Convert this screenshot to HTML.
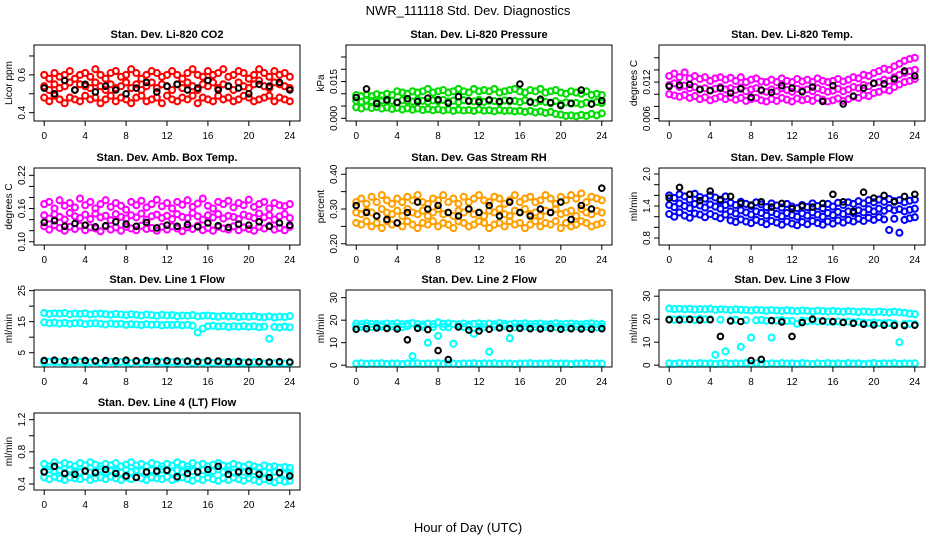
<!DOCTYPE html>
<html><head><meta charset="utf-8"><style>
html,body{margin:0;padding:0;background:#fff}
svg{display:block}
text{font-family:"Liberation Sans",Arial,sans-serif;fill:#000}
.t{font-weight:bold;font-size:11px}
.tk{font-size:10px}
</style></head><body>
<svg id="chart" width="936" height="540" viewBox="0 0 936 540">
<text x="468" y="15" text-anchor="middle" font-size="13">NWR_111118  Std. Dev. Diagnostics</text>
<text x="468" y="532" text-anchor="middle" font-size="13">Hour of Day (UTC)</text>
</svg>
<script>
const hours=[0,0.5,1,1.5,2,2.5,3,3.5,4,4.5,5,5.5,6,6.5,7,7.5,8,8.5,9,9.5,10,10.5,11,11.5,12,12.5,13,13.5,14,14.5,15,15.5,16,16.5,17,17.5,18,18.5,19,19.5,20,20.5,21,21.5,22,22.5,23,23.5,24];
const blackHours=[0,1,2,3,4,5,6,7,8,9,10,11,12,13,14,15,16,17,18,19,20,21,22,23,24];
const xTicks=[0,4,8,12,16,20,24];

const co2Hi=[0.60,0.58,0.61,0.59,0.60,0.62,0.58,0.60,0.61,0.59,0.63,0.60,0.58,0.61,0.62,0.59,0.60,0.63,0.61,0.58,0.60,0.62,0.61,0.59,0.60,0.62,0.60,0.58,0.61,0.63,0.60,0.59,0.62,0.60,0.61,0.63,0.59,0.60,0.62,0.61,0.58,0.60,0.63,0.61,0.59,0.62,0.60,0.61,0.59];
const co2Mid=[0.54,0.52,0.55,0.53,0.54,0.56,0.52,0.55,0.54,0.53,0.56,0.54,0.52,0.55,0.53,0.54,0.56,0.53,0.55,0.52,0.54,0.56,0.53,0.55,0.54,0.52,0.55,0.53,0.56,0.54,0.52,0.55,0.54,0.56,0.53,0.55,0.54,0.52,0.56,0.54,0.53,0.55,0.57,0.54,0.53,0.56,0.55,0.54,0.53];
const co2Lo=[0.48,0.46,0.49,0.47,0.45,0.48,0.47,0.46,0.49,0.47,0.48,0.45,0.47,0.49,0.46,0.48,0.47,0.45,0.48,0.49,0.46,0.47,0.48,0.45,0.49,0.47,0.46,0.48,0.47,0.49,0.45,0.48,0.47,0.46,0.49,0.47,0.48,0.46,0.47,0.49,0.48,0.46,0.47,0.48,0.49,0.46,0.48,0.47,0.46];
const co2Black=[0.53,0.50,0.57,0.52,0.55,0.51,0.54,0.52,0.50,0.53,0.56,0.51,0.54,0.55,0.52,0.53,0.57,0.52,0.54,0.53,0.50,0.55,0.54,0.56,0.52];

const presHi=[0.0095,0.009,0.0095,0.009,0.0098,0.0092,0.010,0.0095,0.011,0.0105,0.010,0.011,0.0105,0.011,0.012,0.0105,0.011,0.0115,0.0105,0.011,0.012,0.011,0.0105,0.012,0.011,0.0115,0.011,0.012,0.0105,0.011,0.0115,0.012,0.011,0.0105,0.0115,0.011,0.012,0.0105,0.011,0.0115,0.0105,0.010,0.011,0.0105,0.010,0.011,0.0095,0.010,0.0095];
const presMid=[0.0072,0.0068,0.0075,0.007,0.0066,0.0073,0.0069,0.0071,0.0065,0.0074,0.007,0.0068,0.0076,0.0071,0.0067,0.0073,0.007,0.0075,0.0068,0.0072,0.0066,0.0074,0.007,0.0069,0.0075,0.0067,0.0072,0.007,0.0065,0.0073,0.0069,0.0071,0.0066,0.0074,0.0068,0.0063,0.0071,0.0067,0.0062,0.007,0.0058,0.0065,0.006,0.0063,0.0057,0.0064,0.006,0.0066,0.0062];
const presLo=[0.0045,0.004,0.0048,0.0042,0.0046,0.004,0.0044,0.0038,0.0043,0.0036,0.0041,0.0035,0.004,0.0034,0.0038,0.0033,0.0037,0.0032,0.0036,0.003,0.0035,0.0032,0.0034,0.003,0.0036,0.0031,0.0033,0.0029,0.0034,0.003,0.0032,0.0028,0.0031,0.0026,0.003,0.0024,0.0028,0.0022,0.0026,0.0018,0.0015,0.001,0.0012,0.0008,0.0014,0.001,0.0018,0.0012,0.002];
const presBlack=[0.0085,0.012,0.006,0.0075,0.0065,0.008,0.0068,0.0082,0.0076,0.0062,0.0088,0.0071,0.0067,0.0075,0.0069,0.0072,0.014,0.0066,0.0078,0.0064,0.0052,0.0061,0.0115,0.0058,0.0072];

const tempHi=[0.0130,0.0134,0.0128,0.0136,0.0126,0.0130,0.0125,0.0128,0.0122,0.0126,0.0128,0.0124,0.0127,0.0122,0.0128,0.0120,0.0124,0.0126,0.0121,0.0120,0.0124,0.0120,0.0126,0.0122,0.0120,0.0125,0.0121,0.0124,0.0120,0.0126,0.0122,0.0120,0.0122,0.0125,0.0121,0.0124,0.0128,0.0126,0.0132,0.0130,0.0135,0.0138,0.0142,0.0140,0.0146,0.0150,0.0155,0.0158,0.0160];
const tempMid=[0.0115,0.0118,0.0112,0.0114,0.0110,0.0112,0.0108,0.0110,0.0106,0.0109,0.0112,0.0108,0.0110,0.0107,0.0111,0.0105,0.0108,0.0110,0.0106,0.0104,0.0108,0.0105,0.0110,0.0107,0.0104,0.0109,0.0106,0.0108,0.0105,0.0110,0.0107,0.0104,0.0106,0.0109,0.0105,0.0108,0.0112,0.0110,0.0115,0.0113,0.0118,0.0120,0.0124,0.0122,0.0128,0.0132,0.0135,0.0138,0.0140];
const tempLo=[0.0100,0.0098,0.0096,0.0099,0.0094,0.0097,0.0092,0.0095,0.0090,0.0093,0.0096,0.0092,0.0095,0.0091,0.0094,0.0089,0.0092,0.0094,0.0090,0.0088,0.0092,0.0089,0.0094,0.0091,0.0088,0.0093,0.0090,0.0092,0.0089,0.0094,0.0091,0.0088,0.0090,0.0093,0.0089,0.0092,0.0096,0.0094,0.0099,0.0097,0.0102,0.0104,0.0108,0.0106,0.0112,0.0116,0.0120,0.0122,0.0125];
const tempBlack=[0.0113,0.0115,0.0116,0.0108,0.0106,0.0110,0.0102,0.0109,0.0095,0.0107,0.0103,0.0114,0.0110,0.0104,0.0112,0.0088,0.0114,0.0084,0.0097,0.0110,0.0118,0.0117,0.0125,0.0138,0.0130];

const boxHi=[0.168,0.172,0.160,0.175,0.165,0.170,0.162,0.178,0.166,0.172,0.160,0.168,0.175,0.163,0.170,0.165,0.158,0.172,0.166,0.174,0.162,0.168,0.176,0.164,0.170,0.160,0.172,0.167,0.175,0.163,0.169,0.178,0.165,0.160,0.172,0.168,0.174,0.162,0.170,0.166,0.176,0.163,0.168,0.172,0.160,0.170,0.166,0.164,0.168];
const boxMid=[0.148,0.142,0.150,0.145,0.140,0.152,0.146,0.143,0.149,0.141,0.151,0.144,0.147,0.139,0.150,0.145,0.142,0.148,0.144,0.151,0.140,0.146,0.149,0.143,0.147,0.141,0.150,0.145,0.143,0.152,0.146,0.140,0.148,0.144,0.150,0.142,0.147,0.145,0.141,0.149,0.146,0.143,0.151,0.144,0.148,0.140,0.146,0.150,0.143];
const boxLo=[0.128,0.122,0.130,0.125,0.120,0.127,0.123,0.129,0.121,0.126,0.124,0.119,0.128,0.122,0.126,0.120,0.127,0.124,0.121,0.129,0.123,0.125,0.120,0.127,0.122,0.128,0.124,0.119,0.126,0.123,0.129,0.121,0.125,0.120,0.127,0.124,0.122,0.128,0.121,0.126,0.123,0.120,0.127,0.124,0.129,0.122,0.125,0.121,0.127];
const boxBlack=[0.135,0.138,0.128,0.133,0.130,0.127,0.129,0.136,0.132,0.128,0.135,0.125,0.130,0.128,0.131,0.127,0.134,0.129,0.126,0.132,0.130,0.136,0.128,0.134,0.130];

const rhHi=[0.32,0.33,0.315,0.335,0.32,0.34,0.325,0.315,0.33,0.32,0.335,0.325,0.34,0.32,0.315,0.33,0.325,0.34,0.32,0.33,0.315,0.335,0.32,0.33,0.34,0.325,0.32,0.335,0.33,0.315,0.325,0.34,0.32,0.33,0.335,0.32,0.325,0.34,0.33,0.315,0.335,0.325,0.34,0.33,0.345,0.32,0.335,0.33,0.325];
const rhMid=[0.29,0.285,0.295,0.29,0.28,0.30,0.29,0.285,0.295,0.28,0.30,0.29,0.285,0.295,0.28,0.29,0.30,0.285,0.29,0.28,0.295,0.29,0.30,0.285,0.29,0.28,0.295,0.29,0.30,0.285,0.28,0.295,0.29,0.30,0.285,0.29,0.28,0.295,0.29,0.30,0.285,0.29,0.295,0.28,0.30,0.29,0.285,0.295,0.29];
const rhLo=[0.26,0.255,0.265,0.25,0.26,0.245,0.265,0.255,0.26,0.25,0.265,0.255,0.245,0.26,0.255,0.265,0.25,0.26,0.255,0.245,0.265,0.26,0.25,0.255,0.265,0.26,0.245,0.255,0.26,0.25,0.265,0.255,0.26,0.245,0.255,0.265,0.25,0.26,0.255,0.265,0.245,0.26,0.25,0.255,0.265,0.26,0.25,0.255,0.26];
const rhBlack=[0.31,0.29,0.28,0.27,0.26,0.29,0.32,0.30,0.31,0.29,0.28,0.30,0.29,0.31,0.28,0.32,0.29,0.28,0.30,0.29,0.32,0.27,0.31,0.30,0.36];

const flowHi=[1.60,1.55,1.62,1.58,1.52,1.63,1.57,1.54,1.60,1.56,1.50,1.58,1.46,1.42,1.48,1.44,1.40,1.47,1.43,1.38,1.45,1.41,1.37,1.44,1.39,1.36,1.42,1.38,1.45,1.40,1.36,1.44,1.39,1.46,1.42,1.47,1.44,1.49,1.45,1.51,1.47,1.52,1.48,1.53,1.49,1.51,1.47,1.50,1.52];
const flowMid=[1.42,1.38,1.45,1.40,1.36,1.44,1.41,1.37,1.43,1.39,1.35,1.42,1.30,1.26,1.32,1.28,1.24,1.30,1.27,1.22,1.29,1.25,1.21,1.27,1.23,1.20,1.26,1.22,1.28,1.24,1.20,1.27,1.23,1.29,1.25,1.30,1.27,1.32,1.28,1.34,1.30,1.35,1.31,1.36,1.32,1.34,1.30,1.33,1.35];
const flowLo=[1.25,1.20,1.28,1.22,1.18,1.26,1.24,1.19,1.25,1.21,1.17,1.24,1.13,1.10,1.15,1.11,1.08,1.14,1.10,1.06,1.12,1.09,1.05,1.11,1.07,1.04,1.10,1.06,1.12,1.08,1.05,1.11,1.07,1.13,1.09,1.14,1.11,1.16,1.12,1.18,1.14,1.19,1.15,0.95,1.16,0.90,1.14,1.17,1.19];
const flowBlack=[1.55,1.75,1.62,1.50,1.68,1.52,1.58,1.45,1.42,1.48,1.38,1.45,1.35,1.40,1.38,1.45,1.62,1.48,1.30,1.66,1.55,1.60,1.48,1.58,1.62];

const l1Hi=[17.8,17.5,17.7,17.6,17.8,17.4,17.6,17.5,17.7,17.3,17.5,17.6,17.4,17.2,17.5,17.3,17.1,17.4,17.2,17.0,17.3,17.1,16.9,17.2,17.0,17.1,16.8,17.0,16.9,17.1,16.7,16.9,17.0,16.8,16.6,16.9,16.7,16.8,16.5,16.7,16.6,16.8,16.5,16.4,16.7,16.3,16.6,16.5,16.8];
const l1Mid=[14.8,14.5,14.7,14.4,14.6,14.3,14.5,14.6,14.2,14.4,14.5,14.3,14.1,14.4,14.2,14.3,14.0,14.2,14.1,13.9,14.2,14.0,14.1,13.8,14.0,13.9,14.1,13.8,14.0,13.7,11.5,12.8,13.5,13.7,13.4,13.6,13.3,13.5,13.4,13.6,13.3,13.5,13.2,13.4,9.5,13.3,13.1,13.4,13.2];
const l1Lo=[1.8,2.1,1.9,2.0,1.7,2.0,1.9,2.1,1.8,1.9,2.0,1.7,1.9,2.1,1.8,2.0,1.9,1.7,2.0,1.8,1.9,2.1,1.8,1.9,1.7,2.0,1.8,1.9,2.0,1.7,1.9,1.8,2.0,1.7,1.9,1.8,1.6,1.9,1.7,1.8,1.6,1.9,1.7,1.5,1.8,1.6,1.7,1.5,1.8];
const l1Black=[2.5,2.6,2.4,2.6,2.5,2.4,2.5,2.4,2.6,2.4,2.5,2.3,2.4,2.3,2.3,2.2,2.4,2.3,2.1,2.2,2.0,2.1,2.0,2.1,2.0];

const l2Hi=[18.5,18.2,18.6,18.3,18.4,18.1,18.5,18.3,18.6,18.2,18.4,18.7,18.3,18.1,18.5,18.2,19.0,18.4,18.6,18.3,18.2,18.5,18.1,18.4,18.6,18.3,18.5,18.2,18.7,18.4,18.1,18.5,18.3,18.6,18.2,18.4,18.5,18.1,18.3,18.6,18.2,18.4,18.5,18.3,18.1,18.4,18.6,18.2,18.3];
const l2Mid=[17.2,17.0,17.4,16.9,17.3,17.1,16.8,17.2,17.0,16.9,17.3,4.0,16.8,17.1,10.0,16.9,13.0,17.0,16.8,9.5,17.1,16.9,17.2,14.0,17.0,16.8,6.0,17.1,16.9,17.3,12.0,16.8,17.0,17.2,16.9,17.1,16.8,17.0,17.2,16.9,17.1,16.8,17.0,17.2,16.9,17.1,17.0,16.8,17.1];
const l2Lo=[0.7,0.9,0.6,0.8,0.7,0.9,0.6,0.8,0.7,0.5,0.8,0.7,0.9,0.6,0.8,0.7,0.9,0.6,0.8,0.7,0.5,0.8,0.7,0.9,0.6,0.8,0.7,0.9,0.6,0.8,0.7,0.5,0.8,0.7,0.9,0.6,0.8,0.7,0.9,0.6,0.8,0.7,0.5,0.8,0.7,0.9,0.6,0.8,0.7];
const l2Black=[16.0,16.2,16.5,16.3,16.1,11.3,16.4,15.8,6.5,2.5,17.0,15.6,15.2,16.0,16.5,16.3,16.4,16.2,16.1,16.3,16.0,16.2,16.1,16.0,16.2];

const l3Hi=[24.6,24.4,24.5,24.3,24.5,24.2,24.4,24.3,24.5,24.1,24.3,24.2,24.0,24.3,24.1,24.0,23.8,24.1,23.9,23.7,24.0,23.8,23.6,23.9,23.7,23.5,23.8,23.6,23.4,23.7,23.5,23.3,23.6,23.4,23.2,23.5,23.3,23.1,23.4,23.2,23.0,23.3,23.1,22.9,23.2,23.0,22.8,22.4,22.2];
const l3Mid=[20.0,19.8,20.1,19.9,20.0,19.7,20.2,19.9,20.0,4.5,19.8,6.0,19.5,19.8,8.0,19.6,12.0,19.5,19.7,19.3,12.0,19.4,19.6,19.2,19.3,18.0,19.4,19.1,19.3,19.0,19.2,18.9,18.8,19.0,18.7,18.9,18.6,18.8,18.5,18.4,18.6,18.3,18.2,18.4,18.1,10.0,17.9,18.0,17.8];
const l3Lo=[0.8,0.6,0.9,0.7,0.8,0.6,0.9,0.7,0.8,0.5,0.7,0.9,0.6,0.8,0.7,0.9,0.6,0.8,0.7,0.5,0.8,0.6,0.9,0.7,0.8,0.6,0.9,0.7,0.5,0.8,0.6,0.9,0.7,0.8,0.6,0.9,0.7,0.8,0.5,0.7,0.9,0.6,0.8,0.7,0.9,0.6,0.8,0.7,0.8];
const l3Black=[19.8,19.7,19.9,19.6,19.8,12.5,19.2,19.0,2.0,2.5,19.4,18.8,12.5,18.5,20.0,19.2,19.0,18.6,18.2,17.8,17.5,17.4,17.3,17.2,17.4];

const l4Hi=[0.65,0.62,0.67,0.63,0.66,0.64,0.62,0.66,0.63,0.67,0.64,0.62,0.65,0.63,0.66,0.62,0.64,0.67,0.63,0.65,0.62,0.66,0.64,0.62,0.65,0.63,0.67,0.64,0.62,0.66,0.63,0.65,0.62,0.64,0.66,0.63,0.62,0.65,0.63,0.61,0.64,0.62,0.60,0.63,0.61,0.62,0.60,0.61,0.60];
const l4Mid=[0.56,0.58,0.55,0.57,0.54,0.58,0.56,0.55,0.57,0.54,0.56,0.58,0.55,0.57,0.56,0.54,0.58,0.55,0.57,0.56,0.54,0.57,0.55,0.58,0.56,0.54,0.57,0.55,0.58,0.56,0.55,0.57,0.54,0.56,0.58,0.55,0.57,0.54,0.56,0.55,0.53,0.56,0.54,0.55,0.53,0.55,0.54,0.52,0.54];
const l4Lo=[0.48,0.46,0.49,0.47,0.45,0.48,0.47,0.46,0.49,0.45,0.47,0.48,0.46,0.49,0.47,0.45,0.48,0.46,0.49,0.47,0.45,0.48,0.47,0.46,0.49,0.45,0.47,0.48,0.46,0.44,0.47,0.45,0.48,0.46,0.44,0.47,0.45,0.48,0.46,0.44,0.47,0.45,0.43,0.46,0.44,0.42,0.45,0.43,0.44];
const l4Black=[0.55,0.62,0.53,0.52,0.56,0.54,0.58,0.53,0.50,0.48,0.55,0.56,0.57,0.49,0.53,0.55,0.58,0.62,0.52,0.55,0.56,0.52,0.48,0.54,0.50];

const panels=[
 {id:'co2',title:'Stan. Dev. Li-820 CO2',ylab:'Licor ppm',col:0,row:0,ymin:0.356,ymax:0.758,ticks:[0.4,0.5,0.6,0.7],labels:{'0.4':'0.4','0.6':'0.6'},color:'#ff0000',s:[co2Hi,co2Mid,co2Lo],b:co2Black},
 {id:'pressure',title:'Stan. Dev. Li-820 Pressure',ylab:'kPa',col:1,row:0,ymin:-0.0011,ymax:0.0299,ticks:[0,0.005,0.01,0.015,0.02,0.025],labels:{'0':'0.000','0.015':'0.015'},color:'#00dd00',s:[presHi,presMid,presLo],b:presBlack},
 {id:'temp',title:'Stan. Dev. Li-820 Temp.',ylab:'degrees C',col:2,row:0,ymin:0.0056,ymax:0.0181,ticks:[0.006,0.008,0.01,0.012,0.014,0.016],labels:{'0.006':'0.006','0.012':'0.012'},color:'#ff00ff',s:[tempHi,tempMid,tempLo],b:tempBlack},
 {id:'boxtemp',title:'Stan. Dev. Amb. Box Temp.',ylab:'degrees C',col:0,row:1,ymin:0.0942,ymax:0.2332,ticks:[0.1,0.12,0.14,0.16,0.18,0.2,0.22],labels:{'0.1':'0.10','0.16':'0.16','0.22':'0.22'},color:'#ff00ff',s:[boxHi,boxMid,boxLo],b:boxBlack},
 {id:'rh',title:'Stan. Dev. Gas Stream RH',ylab:'percent',col:1,row:1,ymin:0.1964,ymax:0.418,ticks:[0.2,0.25,0.3,0.35,0.4],labels:{'0.2':'0.20','0.3':'0.30','0.4':'0.40'},color:'#ffa000',s:[rhHi,rhMid,rhLo],b:rhBlack},
 {id:'sampleflow',title:'Stan. Dev. Sample Flow',ylab:'ml/min',col:2,row:1,ymin:0.669,ymax:2.113,ticks:[0.8,1.0,1.2,1.4,1.6,1.8,2.0],labels:{'0.8':'0.8','1.4':'1.4','2':'2.0'},color:'#0000ff',s:[flowHi,flowMid,flowLo],b:flowBlack},
 {id:'line1',title:'Stan. Dev. Line 1 Flow',ylab:'ml/min',col:0,row:2,ymin:0.4,ymax:25.2,ticks:[5,10,15,20,25],labels:{'5':'5','15':'15','25':'25'},color:'#00ffff',s:[l1Hi,l1Mid,l1Lo],b:l1Black},
 {id:'line2',title:'Stan. Dev. Line 2 Flow',ylab:'ml/min',col:1,row:2,ymin:-0.8,ymax:33.4,ticks:[0,10,20,30],labels:{'0':'0','10':'10','20':'20','30':'30'},color:'#00ffff',s:[l2Hi,l2Mid,l2Lo],b:l2Black},
 {id:'line3',title:'Stan. Dev. Line 3 Flow',ylab:'ml/min',col:2,row:2,ymin:-0.8,ymax:32.7,ticks:[0,10,20,30],labels:{'0':'0','10':'10','20':'20','30':'30'},color:'#00ffff',s:[l3Hi,l3Mid,l3Lo],b:l3Black},
 {id:'line4',title:'Stan. Dev. Line 4 (LT) Flow',ylab:'ml/min',col:0,row:3,ymin:0.325,ymax:1.283,ticks:[0.4,0.6,0.8,1.0,1.2],labels:{'0.4':'0.4','0.8':'0.8','1.2':'1.2'},color:'#00ffff',s:[l4Hi,l4Mid,l4Lo],b:l4Black}
];
const colX=[[34,300],[346,612],[659,925]];
const rowY=[[45,121],[168,245],[290,367],[413,490]];
const NS='http://www.w3.org/2000/svg';
const svg=document.getElementById('chart');
function mk(tag,attrs,parent){const e=document.createElementNS(NS,tag);for(const k in attrs)e.setAttribute(k,attrs[k]);(parent||svg).appendChild(e);return e;}

panels.forEach(p=>{
 const [x0,x1]=colX[p.col],[y0,y1]=rowY[p.row];
 const pad=(x1-x0)/26;
 const xs=h=>x0+pad+(h/24)*(x1-x0-2*pad);
 const ys=v=>y1-(v-p.ymin)/(p.ymax-p.ymin)*(y1-y0);
 const g=mk('g',{});
 
 
 const t=mk('text',{x:(x0+x1)/2,y:y0-7,'text-anchor':'middle',class:'t'},g);t.textContent=p.title;
 
 
 const pts=mk('g',{fill:'none','stroke-width':'2.1'},g);
 
 
 p.s.forEach(arr=>arr.forEach((v,i)=>{
  const c=mk('circle',{cx:xs(hours[i]).toFixed(1),cy:ys(v).toFixed(1),r:3,stroke:p.color},pts);
  
  
 }));
 p.b.forEach((v,i)=>{
  const c=mk('circle',{cx:xs(blackHours[i]).toFixed(1),cy:ys(v).toFixed(1),r:2.8,stroke:'#000','stroke-width':2},pts);
  
  
 });
 const fr=mk('rect',{x:x0,y:y0,width:x1-x0,height:y1-y0,fill:'none',stroke:'#000','stroke-width':1},g);
 
 
 const ax=mk('g',{},g);
 
 
 xTicks.forEach(h=>{
  const x=xs(h);
  mk('line',{x1:x,x2:x,y1:y1,y2:y1+5,stroke:'#000'},ax);
  const l=mk('text',{x:x,y:y1+18,'text-anchor':'middle',class:'tk'},ax);l.textContent=h;
 });
 const ay=mk('g',{},g);
 
 
 p.ticks.forEach(v=>{
  const y=ys(v);
  mk('line',{x1:x0-5,x2:x0,y1:y,y2:y,stroke:'#000'},ay);
  const lab=p.labels[String(v)];
  if(lab){const l=mk('text',{x:x0-9,y:y,'text-anchor':'middle',class:'tk',transform:`rotate(-90 ${x0-9} ${y})`},ay);l.textContent=lab;}
 });
 const yl=mk('text',{x:x0-22,y:(y0+y1)/2,'text-anchor':'middle',class:'tk',transform:`rotate(-90 ${x0-22} ${(y0+y1)/2})`},g);
 yl.textContent=p.ylab;
 
 
});
</script>
</body></html>
